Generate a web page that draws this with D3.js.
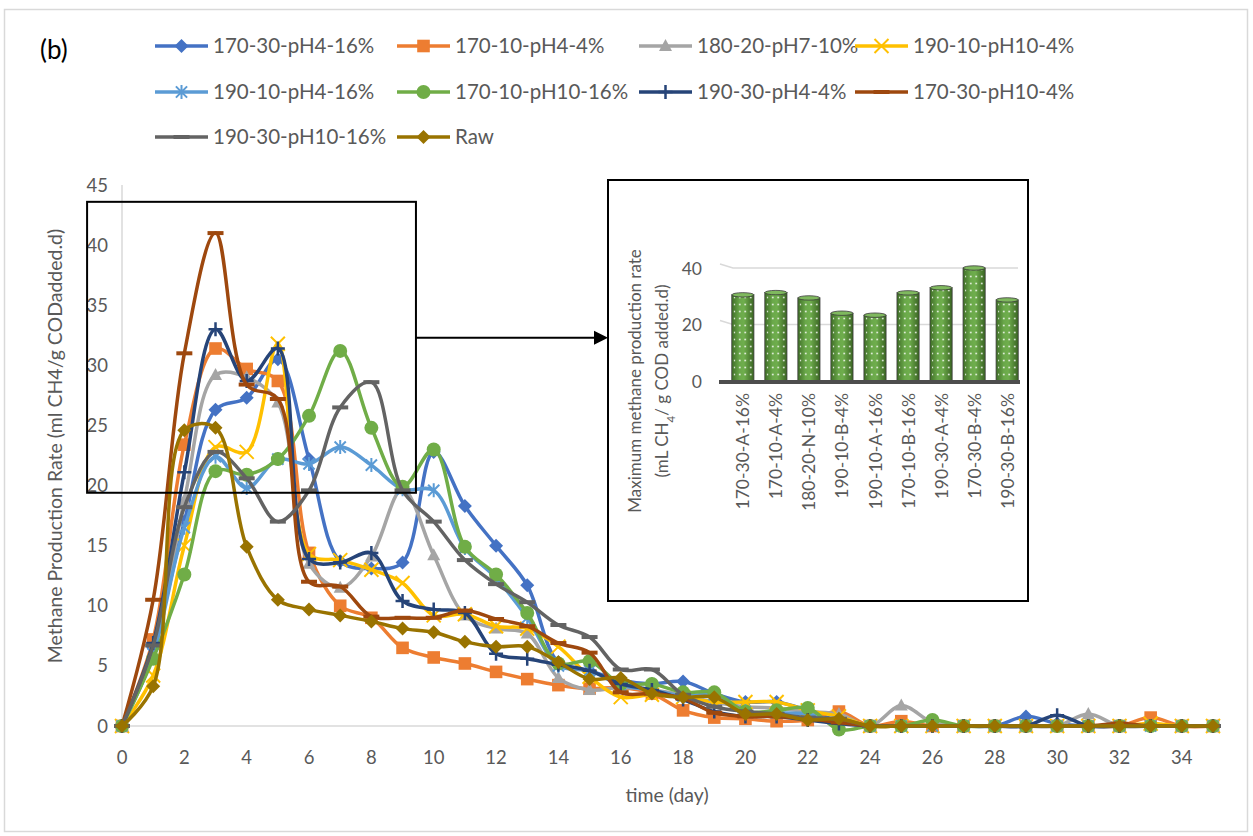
<!DOCTYPE html>
<html><head><meta charset="utf-8">
<script src="https://cdn.jsdelivr.net/npm/d3@7"></script>
<style>
body{margin:0;background:#fff}
svg{display:block}
text{font-family:Lato,'Liberation Sans',sans-serif;fill:#595959}
</style>
</head><body>
<svg id="c" width="1253" height="836"></svg>
<script>
// ---------------- DATA ----------------
const days = [0,1,2,3,4,5,6,7,8,9,10,11,12,13,14,15,16,17,18,19,20,21,22,23,24,25,26,27,28,29,30,31,32,33,34,35];
const s170_30_pH4_16  = [0,6.5,17,26.3,27.3,30.5,22.2,13.7,13.1,13.6,22.8,18.3,15.0,11.7,5.3,4.6,3.8,3.5,3.7,2.7,2.0,2.0,1.3,0.4,0,0,0,0,0,0.8,0.2,0,0,0,0,0];
const s170_10_pH4_4   = [0,7.2,23.4,31.4,29.7,28.7,14.4,10.0,9.0,6.5,5.7,5.2,4.5,3.9,3.4,3.1,3.2,2.7,1.3,0.7,0.6,0.4,0.5,1.2,0,0.4,0,0,0,0,0,0,0,0.7,0,0];
const s180_20_pH7_10  = [0,6.0,18.8,29.2,29.0,26.9,13.5,11.5,14.1,19.7,14.2,9.2,8.1,7.7,4.0,3.0,3.2,3.0,2.6,2.0,1.6,1.5,1.2,1.0,0,1.7,0.3,0,0,0,0,1.0,0,0,0,0];
const s190_10_pH10_4  = [0,4.2,15.0,23.2,22.8,31.8,14.3,13.8,13.0,11.9,9.2,9.3,8.3,8.1,6.6,4.1,2.4,2.6,2.4,2.0,2.0,2.0,1.3,0.8,0,0,0,0,0,0,0,0,0,0.2,0,0];
const s190_10_pH4_16  = [0,6.0,16.5,22.4,19.8,22.2,21.8,23.2,21.7,19.7,19.6,14.8,12.3,9.0,5.0,4.6,3.4,3.0,2.5,2.6,1.2,1.1,1.0,0.3,0,0,0,0,0,0,0,0,0,0,0,0];
const s170_10_pH10_16 = [0,5.6,12.6,21.2,20.9,22.2,25.8,31.2,24.8,19.9,23.0,14.9,12.6,9.4,5.2,5.4,3.5,3.5,2.8,2.8,1.2,1.3,1.5,-0.3,0,0,0.5,0,0,0,0,0,0,0,0,0];
const s190_30_pH4_4   = [0,6.9,21.1,33.0,28.7,31.4,13.9,13.6,14.4,10.4,9.7,9.4,6.0,5.6,5.1,4.6,3.5,3.0,2.2,1.2,0.8,0.8,0.5,0.2,0,0,0,0,0,0,0.9,0,0,0,0,0];
const s170_30_pH10_4  = [0,10.5,31.0,41.0,28.4,27.2,12.0,11.6,9.1,9.0,9.0,9.6,8.9,8.3,6.9,6.1,2.8,2.7,2.3,1.1,0.8,0.8,0.6,0.3,0,0,0,0,0,0,0,0,0.2,0,0,0];
const s190_30_pH10_16 = [0,6.7,18.2,22.8,20.6,17.0,19.6,26.5,28.6,19.6,17.0,13.8,11.8,10.3,8.4,7.4,4.7,4.7,2.6,1.6,1.2,1.0,0.7,0.6,0,0,0,0,0,0,0,0,0,0,0,0];
const sRaw            = [0,3.3,24.6,24.8,14.9,10.5,9.7,9.2,8.7,8.1,7.8,7.0,6.6,6.6,5.3,3.9,4.0,2.7,2.4,2.4,1.0,1.0,0.5,0.6,0,0,0,0,0,0,0,0,0,0,0,0];

const seriesNames   = ["170-30-pH4-16%","170-10-pH4-4%","180-20-pH7-10%","190-10-pH10-4%","190-10-pH4-16%","170-10-pH10-16%","190-30-pH4-4%","170-30-pH10-4%","190-30-pH10-16%","Raw"];
const seriesValues  = [s170_30_pH4_16,s170_10_pH4_4,s180_20_pH7_10,s190_10_pH10_4,s190_10_pH4_16,s170_10_pH10_16,s190_30_pH4_4,s170_30_pH10_4,s190_30_pH10_16,sRaw];
const seriesColors  = ["#4472C4","#ED7D31","#A5A5A5","#FFC000","#5B9BD5","#70AD47","#264478","#9E480E","#636363","#997300"];
const seriesMarkers = ["diamond","square","triangle","x","star","circle","plus","dash","dash","diamond"];

const xTicks = [0,2,4,6,8,10,12,14,16,18,20,22,24,26,28,30,32,34];
const yTicks = [0,5,10,15,20,25,30,35,40,45];

const insetCategories = ["170-30-A-16%","170-10-A-4%","180-20-N-10%","190-10-B-4%","190-10-A-16%","170-10-B-16%","190-30-A-4%","170-30-B-4%","190-30-B-16%"];
const insetValues     = [30.5,31.3,29.4,24.0,23.3,31.2,33.0,40.0,28.7];
const insetTicks      = [0,20,40];

// zoom box (data units) and arrow level
const zoomBox = {x0:-1.12, x1:9.43, y0:19.4, y1:43.6, arrowY:32.3};

// ---------------- LAYOUT ----------------
const svg = d3.select("#c");
const x = d3.scaleLinear().domain([0,35]).range([122,1213]);
const y = d3.scaleLinear().domain([0,45]).range([726,185]);

// outer frame
svg.append("rect").attr("x",4.5).attr("y",9.5).attr("width",1243).attr("height",822)
  .attr("fill","#fff").attr("stroke","#D9D9D9").attr("stroke-width",1.5);

// (b)
svg.append("text").attr("x",40).attr("y",59).style("font-size","26px").style("fill","#000").text("(b)");

// axes lines
svg.append("line").attr("x1",x(0)).attr("x2",x(0)).attr("y1",y(45)).attr("y2",y(0))
  .attr("stroke","#D9D9D9").attr("stroke-width",1.5);
svg.append("line").attr("x1",x(0)).attr("x2",x(35)+4).attr("y1",y(0)).attr("y2",y(0))
  .attr("stroke","#D9D9D9").attr("stroke-width",1.5);

// tick labels
svg.append("g").selectAll("text").data(yTicks).join("text")
  .attr("x",108).attr("y",d=>y(d)+6.5).attr("text-anchor","end").style("font-size","18.5px").text(d=>d);
svg.append("g").selectAll("text").data(xTicks).join("text")
  .attr("x",d=>x(d)).attr("y",764).attr("text-anchor","middle").style("font-size","18.5px").text(d=>d);

// axis titles
svg.append("text").attr("x",667).attr("y",802).attr("text-anchor","middle").style("font-size","19.5px").text("time (day)");
svg.append("text").attr("transform","translate(62,446) rotate(-90)").attr("text-anchor","middle")
  .style("font-size","19.5px").text("Methane Production Rate (ml CH4/g CODadded.d)");

// ---------------- MARKERS ----------------
function drawMarker(g, type, color, cx, cy, scale=1){
  const r = 7*scale;
  let el;
  switch(type){
    case "diamond":
      el = g.append("path").attr("d",`M${cx},${cy-r}L${cx+r},${cy}L${cx},${cy+r}L${cx-r},${cy}Z`).attr("fill",color);
      break;
    case "square":
      el = g.append("rect").attr("x",cx-6.3*scale).attr("y",cy-6.3*scale).attr("width",12.6*scale).attr("height",12.6*scale).attr("fill",color);
      break;
    case "triangle":
      el = g.append("path").attr("d",`M${cx},${cy-7*scale}L${cx+6.5*scale},${cy+5*scale}L${cx-6.5*scale},${cy+5*scale}Z`).attr("fill",color);
      break;
    case "circle":
      el = g.append("circle").attr("cx",cx).attr("cy",cy).attr("r",7*scale).attr("fill",color);
      break;
    case "x":
      el = g.append("path").attr("d",`M${cx-r},${cy-r}L${cx+r},${cy+r}M${cx-r},${cy+r}L${cx+r},${cy-r}`)
        .attr("stroke",color).attr("stroke-width",2).attr("fill","none");
      break;
    case "star":
      el = g.append("path").attr("d",`M${cx-r*0.8},${cy-r*0.8}L${cx+r*0.8},${cy+r*0.8}M${cx-r*0.8},${cy+r*0.8}L${cx+r*0.8},${cy-r*0.8}M${cx},${cy-r}L${cx},${cy+r}`)
        .attr("stroke",color).attr("stroke-width",2).attr("fill","none");
      break;
    case "plus":
      el = g.append("path").attr("d",`M${cx-r},${cy}L${cx+r},${cy}M${cx},${cy-r}L${cx},${cy+r}`)
        .attr("stroke",color).attr("stroke-width",2.5).attr("fill","none");
      break;
    case "dash":
      el = g.append("path").attr("d",`M${cx-8*scale},${cy}L${cx+8*scale},${cy}`)
        .attr("stroke",color).attr("stroke-width",4).attr("fill","none");
      break;
  }
  return el;
}

// ---------------- SERIES ----------------
const line = d3.line().x(d=>x(d[0])).y(d=>y(d[1])).curve(d3.curveCatmullRom.alpha(0.5));
const plot = svg.append("g");
seriesValues.forEach((vals,i)=>{
  const pts = days.map((d,k)=>[d, vals[k]]);
  const g = plot.append("g");
  g.append("path").datum(pts).attr("d",line).attr("fill","none")
    .attr("stroke",seriesColors[i]).attr("stroke-width",3.5).attr("stroke-linejoin","round");
  pts.forEach(p=>drawMarker(g, seriesMarkers[i], seriesColors[i], x(p[0]), y(p[1])));
});

// ---------------- LEGEND ----------------
const legTextX = [213,455,697,913];
const legRowY  = [46,92,137];
const leg = svg.append("g");
seriesNames.forEach((n,i)=>{
  const col = i%4, row = Math.floor(i/4);
  const tx = legTextX[col], ty = legRowY[row];
  const g = leg.append("g");
  g.append("line").attr("x1",tx-58).attr("x2",tx-5).attr("y1",ty).attr("y2",ty)
    .attr("stroke",seriesColors[i]).attr("stroke-width",3.5);
  drawMarker(g, seriesMarkers[i], seriesColors[i], tx-31.5, ty);
  g.append("text").attr("x",tx).attr("y",ty+7).style("font-size","20.5px").text(n);
});

// ---------------- ZOOM BOX + ARROW ----------------
const zb = svg.append("g");
zb.append("rect").attr("x",x(zoomBox.x0)).attr("y",y(zoomBox.y1))
  .attr("width",x(zoomBox.x1)-x(zoomBox.x0)).attr("height",y(zoomBox.y0)-y(zoomBox.y1))
  .attr("fill","none").attr("stroke","#000").attr("stroke-width",2);

// inset frame
const inset = {x:608,y:180,w:420,h:421};
const ay = y(zoomBox.arrowY);
zb.append("line").attr("x1",x(zoomBox.x1)).attr("x2",inset.x-12).attr("y1",ay).attr("y2",ay)
  .attr("stroke","#000").attr("stroke-width",2);
zb.append("path").attr("d",`M${inset.x-14},${ay-7}L${inset.x},${ay}L${inset.x-14},${ay+7}Z`).attr("fill","#000");

const ig = svg.append("g");
ig.append("rect").attr("x",inset.x).attr("y",inset.y).attr("width",inset.w).attr("height",inset.h)
  .attr("fill","#fff").attr("stroke","#000").attr("stroke-width",2);

// ---------------- INSET BAR CHART ----------------
const iy = d3.scaleLinear().domain([0,40]).range([381,268]);
const ix = d3.scaleBand().domain(insetCategories).range([726.5,1023.5]).paddingInner(0.33).paddingOuter(0.16);

const defs = svg.append("defs");
const grad = defs.append("linearGradient").attr("id","cyl").attr("x1","0").attr("x2","1").attr("y1","0").attr("y2","0");
[["0%","#3f6d27"],["35%","#6aa84a"],["55%","#6fae4d"],["100%","#3a6423"]].forEach(s=>
  grad.append("stop").attr("offset",s[0]).attr("stop-color",s[1]));
const pat = defs.append("pattern").attr("id","dots").attr("patternUnits","userSpaceOnUse")
  .attr("width",5.5).attr("height",7);
pat.append("circle").attr("cx",2.75).attr("cy",3.5).attr("r",0.9).attr("fill","#fff").attr("opacity",0.85);

// gridlines (with a slight perspective step at the left)
ig.append("g").selectAll("path").data(insetTicks.filter(t=>t>0)).join("path")
  .attr("d",t=>`M720,${iy(t)-4}L733,${iy(t)}L1018,${iy(t)}`)
  .attr("fill","none").attr("stroke","#D9D9D9").attr("stroke-width",1.5);

ig.append("g").selectAll("text").data(insetTicks).join("text")
  .attr("x",702).attr("y",t=>iy(t)+6.5).attr("text-anchor","end").style("font-size","17.5px").text(t=>t);

const bw = ix.bandwidth();
const bars = ig.append("g").selectAll("g").data(insetCategories).join("g");
bars.append("rect").attr("x",c=>ix(c)).attr("y",(c,i)=>iy(insetValues[i])).attr("width",bw)
  .attr("height",(c,i)=>iy(0)-iy(insetValues[i])).attr("fill","url(#cyl)").attr("stroke","#3b3b3b").attr("stroke-width",0.8);
bars.append("rect").attr("x",c=>ix(c)+2).attr("y",(c,i)=>iy(insetValues[i])+2).attr("width",bw-4)
  .attr("height",(c,i)=>iy(0)-iy(insetValues[i])-2).attr("fill","url(#dots)");
bars.append("ellipse").attr("cx",c=>ix(c)+bw/2).attr("cy",(c,i)=>iy(insetValues[i]))
  .attr("rx",bw/2).attr("ry",2.2).attr("fill","#7fb95e").attr("stroke","#3b3b3b").attr("stroke-width",0.8);

// base floor line
ig.append("line").attr("x1",719).attr("x2",1020).attr("y1",iy(0)+1).attr("y2",iy(0)+1)
  .attr("stroke","#4d4d4d").attr("stroke-width",4);

// category labels
ig.append("g").selectAll("text").data(insetCategories).join("text")
  .attr("transform",c=>`translate(${ix(c)+bw/2+6.5},393) rotate(-90)`).attr("text-anchor","end")
  .style("font-size","17.5px").text(c=>c);

// inset y title
ig.append("text").attr("transform","translate(641,381) rotate(-90)").attr("text-anchor","middle")
  .style("font-size","17px").text("Maximum methane production rate");
const t2 = ig.append("text").attr("transform","translate(668,381) rotate(-90)").attr("text-anchor","middle")
  .style("font-size","17px");
t2.append("tspan").text("(mL CH");
t2.append("tspan").attr("baseline-shift","sub").style("font-size","11.5px").text("4");
t2.append("tspan").text("/ g COD added.d)");
</script>
</body></html>
